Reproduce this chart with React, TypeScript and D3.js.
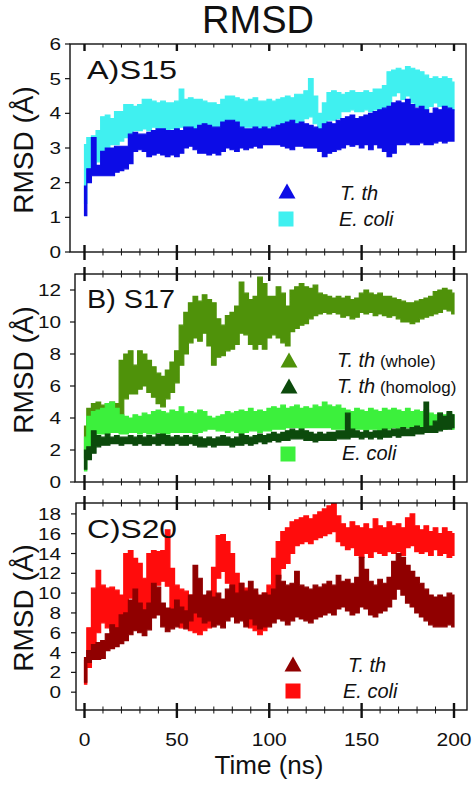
import React from "react";
import * as d3 from "d3";

// time grid (ns)
const TIME = [
  0, 2.5, 5, 7.5, 10, 12.5, 15, 17.5, 20, 22.5,
  25, 27.5, 30, 32.5, 35, 37.5, 40, 42.5, 45, 47.5,
  50, 52.5, 55, 57.5, 60, 62.5, 65, 67.5, 70, 72.5,
  75, 77.5, 80, 82.5, 85, 87.5, 90, 92.5, 95, 97.5,
  100, 102.5, 105, 107.5, 110, 112.5, 115, 117.5, 120, 122.5,
  125, 127.5, 130, 132.5, 135, 137.5, 140, 142.5, 145, 147.5,
  150, 152.5, 155, 157.5, 160, 162.5, 165, 167.5, 170, 172.5,
  175, 177.5, 180, 182.5, 185, 187.5, 190, 192.5, 195, 197.5,
  200,
];

// ---- Panel A: S15 (upper / lower envelope of the RMSD trace, Å)
const S15_ECOLI_HI = [
  3.1, 3.3, 3.35, 3.5, 3.9, 3.95, 3.85, 4.05, 4.05, 4.25,
  4.25, 4.2, 4.25, 4.4, 4.4, 4.35, 4.3, 4.35, 4.3, 4.3,
  4.35, 4.7, 4.4, 4.45, 4.4, 4.4, 4.35, 4.3, 4.3, 4.25,
  4.4, 4.5, 4.5, 4.45, 4.4, 4.35, 4.4, 4.45, 4.35, 4.35,
  4.4, 4.35, 4.4, 4.45, 4.5, 4.45, 4.55, 4.55, 4.65, 5.0,
  4.5, 4.0, 4.3, 4.6, 4.65, 4.6, 4.55, 4.6, 4.65, 4.6,
  4.6, 4.65, 4.6, 4.7, 4.7, 4.8, 5.2, 5.25, 5.3, 5.25,
  5.35, 5.3, 5.25, 5.2, 5.1, 5.0, 5.05, 5.0, 5.05, 5.0,
  4.9,
];
const S15_ECOLI_LO = [
  1.4, 2.4, 2.4, 2.6, 2.9, 3.0, 3.1, 3.1, 3.2, 3.3,
  3.4, 3.5, 3.5, 3.55, 3.5, 3.6, 3.55, 3.5, 3.5, 3.55,
  3.5, 3.6, 3.55, 3.6, 3.55, 3.6, 3.65, 3.6, 3.6, 3.55,
  3.6, 3.65, 3.6, 3.6, 3.55, 3.6, 3.6, 3.6, 3.55, 3.6,
  3.6, 3.6, 3.65, 3.65, 3.7, 3.75, 3.7, 3.75, 3.85, 3.9,
  3.7, 3.35, 3.5, 3.8, 3.8, 3.85, 4.05, 4.05, 4.1, 4.05,
  4.05, 4.1, 4.05, 4.1, 4.05, 4.15, 4.2, 4.5, 4.6, 4.4,
  4.5, 4.3, 4.2, 4.15, 4.1, 4.2, 4.3, 4.2, 4.15, 4.15,
  4.1,
];
const S15_TTH_HI = [
  1.9, 2.4, 3.3, 2.5, 2.9, 3.0, 3.0, 3.05, 3.05, 3.05,
  3.4, 3.45, 3.4, 3.4, 3.45, 3.5, 3.55, 3.55, 3.5, 3.5,
  3.55, 3.5, 3.6, 3.6, 3.55, 3.65, 3.7, 3.65, 3.6, 3.6,
  3.75, 3.8, 3.8, 3.75, 3.6, 3.55, 3.55, 3.6, 3.55, 3.6,
  3.55, 3.6, 3.65, 3.7, 3.75, 3.8, 3.7, 3.75, 3.7, 3.65,
  3.6, 3.55, 3.7, 3.75, 3.7, 3.8, 3.85, 3.9, 3.95, 3.85,
  3.9, 3.95, 4.0, 4.05, 4.1, 4.15, 4.2, 4.3, 4.35, 4.3,
  4.4, 4.25, 4.15, 4.2, 4.1, 4.0, 4.15, 4.1, 4.2, 4.15,
  4.1,
];
const S15_TTH_LO = [
  1.05, 2.0, 2.2, 2.2, 2.2, 2.2, 2.2, 2.3, 2.35, 2.4,
  2.55, 2.9, 2.95, 2.9, 2.75, 2.8, 2.85, 2.8, 2.75, 2.8,
  2.75, 2.85, 3.0, 3.05, 2.95, 2.85, 2.85, 2.8, 2.85, 2.8,
  2.9, 3.0, 2.95, 2.9, 3.0, 2.95, 3.0, 3.05, 3.0, 3.1,
  3.1, 3.1, 3.1, 3.05, 3.0, 2.95, 3.05, 3.05, 3.0, 3.0,
  3.0, 2.9, 2.75, 2.85, 2.9, 2.95, 3.0, 3.1, 3.05, 3.1,
  3.0, 3.1, 2.95, 3.1, 3.0, 2.9, 2.75, 2.85, 3.1, 3.1,
  3.15, 3.1, 3.1, 3.15, 3.1, 3.1, 3.15, 3.2, 3.15, 3.2,
  3.2,
];

// ---- Panel B: S17
const S17_WHOLE_HI = [
  3.5, 4.6, 4.9, 5.0, 4.8, 4.9, 5.0, 4.9, 7.6, 8.0,
  8.2, 7.3, 8.2, 8.0, 7.6, 7.2, 6.8, 6.6, 7.0, 7.5,
  8.2, 9.8, 10.6, 11.2, 11.6, 11.3, 11.7, 11.4, 11.2, 10.2,
  9.8, 10.4, 10.6, 11.0, 12.5, 11.8, 11.4, 11.6, 12.8, 12.4,
  11.6, 11.6, 12.2, 11.8, 11.0, 12.0, 12.2, 12.4, 12.2, 12.1,
  12.3, 11.8, 11.7, 11.6, 11.5, 11.6, 11.5, 11.6, 11.4, 11.5,
  11.8, 12.0, 11.8, 11.7, 11.8, 11.6, 11.6, 11.5, 11.4, 11.3,
  11.2, 11.2, 11.3, 11.4, 11.5, 11.6, 11.9, 12.0, 12.1, 12.0,
  11.8,
];
const S17_WHOLE_LO = [
  1.5, 3.5, 3.8, 4.0, 4.0, 4.0, 4.1, 3.9, 4.0, 5.2,
  5.5, 5.5, 5.8, 6.0, 5.6, 5.3, 4.9, 4.7, 5.2, 5.6,
  6.2, 7.3, 8.0, 8.7, 9.0, 8.8, 9.3, 8.5, 7.3, 7.8,
  7.9, 8.2, 8.3, 8.6, 9.3, 9.2, 8.6, 8.3, 8.6, 8.3,
  9.0, 9.2, 9.0, 8.7, 8.5, 9.4, 9.6, 9.8, 9.9, 10.2,
  10.4, 10.5, 10.6, 10.5, 10.6, 10.5, 10.3, 10.4, 10.2, 10.3,
  10.6, 10.5, 10.6, 10.4, 10.5, 10.4, 10.3, 10.4, 10.2, 10.0,
  10.0, 9.9, 10.0, 10.2, 10.3, 10.4, 10.5, 10.6, 10.8, 10.7,
  10.5,
];
const S17_ECOLI_HI = [
  2.8, 4.1, 4.4, 4.5, 4.6, 4.9, 5.0, 4.6, 4.2, 4.1,
  4.0, 4.2, 4.1, 4.3, 4.2, 4.4, 4.5, 4.4, 4.3, 4.5,
  4.4, 4.7, 4.3, 4.4, 4.3, 4.5, 4.4, 4.1, 4.0, 4.1,
  4.2, 4.4, 4.3, 4.4, 4.5, 4.4, 4.6, 4.4, 4.5, 4.4,
  4.6, 4.7, 4.6, 4.8, 4.6, 4.7, 4.8, 4.6, 4.7, 4.6,
  4.8, 4.7, 5.0, 4.8, 4.7, 4.8, 4.6, 4.5, 4.4, 4.6,
  4.5, 4.4, 4.6, 4.5, 4.4, 4.6, 4.5, 4.6, 4.5, 4.4,
  4.6, 4.4, 4.5, 4.4, 4.5, 4.3, 4.2, 4.3, 4.2, 4.3,
  4.2,
];
const S17_ECOLI_LO = [
  0.7, 2.2, 2.8, 3.0, 3.0, 3.0, 3.1, 3.1, 3.0, 3.0,
  3.1, 3.1, 3.0, 3.1, 3.0, 3.0, 3.1, 3.0, 3.0, 3.1,
  3.1, 3.1, 3.1, 3.1, 3.0, 3.1, 3.2, 3.3, 3.3, 3.2,
  3.2, 3.1, 3.2, 3.1, 3.0, 3.1, 3.2, 3.2, 3.1, 3.2,
  3.2, 3.3, 3.3, 3.3, 3.4, 3.4, 3.4, 3.3, 3.4, 3.4,
  3.4, 3.4, 3.4, 3.4, 3.3, 3.3, 3.3, 3.3, 3.2, 3.3,
  3.3, 3.2, 3.3, 3.3, 3.2, 3.3, 3.3, 3.4, 3.3, 3.4,
  3.4, 3.3, 3.4, 3.3, 3.4, 3.3, 3.3, 3.4, 3.3, 3.4,
  3.3,
];
const S17_HOMOLOG_HI = [
  2.0, 2.2, 3.2, 2.9, 2.8, 3.0, 2.8, 2.9, 2.8, 2.8,
  2.9, 2.8, 2.9, 2.8, 2.9, 2.8, 3.0, 3.0, 2.9, 2.8,
  2.9, 2.8, 2.9, 2.8, 2.9, 2.8, 2.7, 2.8, 2.7, 2.8,
  2.9, 2.8, 2.7, 2.8, 3.0, 2.9, 2.8, 2.9, 3.0, 2.9,
  3.0, 3.1, 3.0, 3.1, 3.2, 3.3, 3.2, 3.3, 3.2, 3.1,
  3.0, 3.1, 3.0, 3.1, 3.1, 3.2, 3.2, 4.3, 3.3, 3.2,
  3.1, 3.2, 3.1, 3.2, 3.2, 3.3, 3.2, 3.3, 3.3, 3.4,
  3.3, 3.4, 3.5, 3.4, 5.0, 3.5, 3.8, 4.3, 4.1, 4.4,
  4.2,
];
const S17_HOMOLOG_LO = [
  0.8, 1.4, 1.8, 2.2, 2.3, 2.3, 2.4, 2.4, 2.3, 2.4,
  2.4, 2.3, 2.4, 2.3, 2.3, 2.4, 2.3, 2.4, 2.3, 2.3,
  2.4, 2.3, 2.3, 2.4, 2.3, 2.2, 2.2, 2.3, 2.2, 2.3,
  2.3, 2.3, 2.2, 2.3, 2.3, 2.4, 2.3, 2.4, 2.5, 2.4,
  2.5, 2.6, 2.5, 2.6, 2.6, 2.7, 2.7, 2.7, 2.6, 2.6,
  2.5, 2.6, 2.6, 2.6, 2.6, 2.7, 2.7, 2.7, 2.8, 2.8,
  2.7, 2.8, 2.7, 2.8, 2.7, 2.8, 2.8, 2.9, 2.8, 2.9,
  2.9, 2.9, 3.0, 3.0, 3.1, 3.1, 3.1, 3.2, 3.3, 3.3,
  3.4,
];

// ---- Panel C: S20
const S20_ECOLI_HI = [
  3.2, 6.5, 10.5, 12.3, 10.8, 10.5, 10.6, 10.3, 9.8, 14.0,
  14.3, 13.5, 13.0, 11.5, 14.0, 14.3, 14.2, 14.3, 16.4, 12.5,
  10.8, 10.4, 10.2, 9.8, 9.6, 9.8, 9.5, 9.9, 12.6, 15.8,
  15.9, 15.2, 14.0, 12.0, 11.0, 10.5, 10.2, 10.0, 9.6, 10.0,
  10.8, 13.5, 15.2, 16.2, 16.6, 17.2, 17.4, 17.6, 17.8, 17.5,
  17.9, 18.2, 18.5, 18.8, 19.1, 17.8, 17.0, 16.6, 17.2, 16.8,
  16.6, 17.0, 16.5, 17.5, 16.8, 16.6, 17.2, 16.8, 17.0, 16.6,
  17.6, 18.0, 16.8, 16.4, 16.8, 16.2, 16.6, 16.0, 16.6, 16.2,
  16.0,
];
const S20_ECOLI_LO = [
  0.8, 2.5, 4.8, 6.0, 7.0, 6.5, 6.2, 5.8, 5.8, 6.5,
  9.5, 9.0, 8.6, 7.5, 8.5, 10.0, 10.8, 11.2, 10.7, 8.0,
  7.0, 6.5, 6.8, 6.2, 6.0, 5.8, 6.2, 6.5, 8.0, 11.5,
  12.2, 11.0, 10.2, 8.8, 7.5, 7.0, 6.5, 6.2, 5.8, 6.2,
  7.0, 9.5, 11.5, 12.5, 13.0, 14.0, 14.8, 15.0, 15.2, 15.0,
  15.4, 15.6, 15.8, 16.0, 16.2, 15.2, 14.8, 14.4, 14.6, 13.8,
  13.6, 14.0, 13.6, 14.2, 14.0, 13.8, 14.2, 14.0, 14.2, 13.8,
  14.6, 14.8, 14.2, 14.0, 14.2, 13.8, 14.4, 13.8, 14.0, 13.6,
  13.8,
];
const S20_TTH_HI = [
  3.5, 4.2, 4.8, 5.0, 5.2, 5.9, 6.8, 6.5, 7.8, 8.0,
  9.3, 10.4, 9.0, 8.3, 9.0, 11.0, 10.6, 9.0, 8.5, 8.4,
  9.3, 8.6, 8.2, 9.8, 12.8, 11.5, 9.8, 10.2, 9.6, 10.0,
  9.4, 10.4, 10.8, 10.0, 11.0, 10.2, 11.2, 10.4, 9.8, 10.0,
  9.8, 10.4, 11.8, 11.2, 10.8, 11.0, 12.2, 10.8, 10.6, 10.4,
  10.8, 10.6, 10.9, 11.2, 10.8, 11.8, 11.2, 11.4, 11.0, 11.6,
  13.6, 12.4, 11.2, 10.8, 11.4, 11.0, 11.6, 13.2, 14.0, 13.6,
  12.8, 12.2, 11.6, 11.0, 10.4, 9.8, 9.6, 9.8, 9.6, 10.0,
  9.8,
];
const S20_TTH_LO = [
  1.0, 3.0, 3.3, 3.3, 3.4, 4.2, 4.4, 4.6, 4.9, 5.2,
  5.8, 6.2, 6.0, 5.7, 6.3, 7.5, 7.8, 6.6, 6.1, 6.4,
  6.6, 7.0, 6.4, 7.2, 8.0, 7.6, 7.0, 7.2, 6.6, 6.8,
  6.5, 7.2, 7.6, 7.0, 7.2, 6.6, 7.4, 6.8, 6.4, 6.6,
  6.6, 7.0, 7.4, 7.2, 6.8, 7.2, 7.6, 7.4, 7.2, 7.0,
  7.4, 7.6, 7.8, 8.0, 7.8, 8.4, 8.6, 8.2, 7.8, 8.0,
  8.6, 8.4, 7.8, 7.6, 8.0, 8.2, 8.6, 9.4, 10.4, 9.8,
  9.0, 8.6, 8.0, 7.6, 7.2, 6.8, 6.6, 6.6, 6.6, 6.8,
  6.6,
];

// ---- ticks
const X_MAJOR = [0, 50, 100, 150, 200];
const X_MINOR = [10, 20, 30, 40, 60, 70, 80, 90, 110, 120, 130, 140, 160, 170, 180, 190];
const Y_TICKS_A = [0, 1, 2, 3, 4, 5, 6];
const Y_TICKS_B = [0, 2, 4, 6, 8, 10, 12];
const Y_TICKS_C = [0, 2, 4, 6, 8, 10, 12, 14, 16, 18];

const FONT = "'Liberation Sans', Arial, Helvetica, sans-serif";

const xScale = d3.scaleLinear().domain([0, 200]).range([84.5, 454]);

type Series = { hi: number[]; lo: number[]; color: string };
type LegendItem = { shape: "tri" | "sq"; color: string; label: string; extra?: string; mx: number; my: number; tx: number; ty: number };

type PanelDef = {
  id: string;
  top: number; bottom: number; left: number; right: number;
  domain: [number, number];
  yTicks: number[];
  topTicksInward: boolean;
  label: string; labelLen: number; labelY: number;
  titleY: number;
  series: Series[];
  legend: LegendItem[];
};

const PANELS: PanelDef[] = [
  {
    id: "A", top: 44, bottom: 252, left: 70, right: 466, domain: [0, 6], yTicks: Y_TICKS_A,
    topTicksInward: true, label: "A)S15", labelLen: 90, labelY: 79, titleY: 150,
    series: [
      { hi: S15_ECOLI_HI, lo: S15_ECOLI_LO, color: "#40f0f0" },
      { hi: S15_TTH_HI, lo: S15_TTH_LO, color: "#0c0ce6" },
    ],
    legend: [
      { shape: "tri", color: "#0c0ce6", label: "T. th", mx: 287, my: 191, tx: 340, ty: 200 },
      { shape: "sq", color: "#40f0f0", label: "E. coli", mx: 286, my: 219, tx: 339, ty: 226 },
    ],
  },
  {
    id: "B", top: 274, bottom: 482, left: 75, right: 467, domain: [0, 13], yTicks: Y_TICKS_B,
    topTicksInward: false, label: "B) S17", labelLen: 88, labelY: 308, titleY: 370,
    series: [
      { hi: S17_WHOLE_HI, lo: S17_WHOLE_LO, color: "#4f920a" },
      { hi: S17_ECOLI_HI, lo: S17_ECOLI_LO, color: "#3cf03c" },
      { hi: S17_HOMOLOG_HI, lo: S17_HOMOLOG_LO, color: "#0c4a0c" },
    ],
    legend: [
      { shape: "tri", color: "#4f920a", label: "T. th", extra: "(whole)", mx: 289, my: 360, tx: 337, ty: 367 },
      { shape: "tri", color: "#0c4a0c", label: "T. th", extra: "(homolog)", mx: 289, my: 386, tx: 337, ty: 393 },
      { shape: "sq", color: "#3cf03c", label: "E. coli", mx: 288, my: 454, tx: 342, ty: 460 },
    ],
  },
  {
    id: "C", top: 503, bottom: 710, left: 76, right: 467, domain: [-1.8, 19.1], yTicks: Y_TICKS_C,
    topTicksInward: false, label: "C)S20", labelLen: 90, labelY: 538, titleY: 608,
    series: [
      { hi: S20_ECOLI_HI, lo: S20_ECOLI_LO, color: "#ff0c0c" },
      { hi: S20_TTH_HI, lo: S20_TTH_LO, color: "#900000" },
    ],
    legend: [
      { shape: "tri", color: "#900000", label: "T. th", mx: 293, my: 664, tx: 348, ty: 672 },
      { shape: "sq", color: "#ff0c0c", label: "E. coli", mx: 293, my: 691, tx: 343, ty: 698 },
    ],
  },
];

function Panel({ p }: { p: PanelDef }) {
  const y = d3.scaleLinear().domain(p.domain).range([p.bottom, p.top]);
  const area = (s: Series) =>
    d3
      .area<number>()
      .x((_, i) => xScale(TIME[i]))
      .y0((_, i) => y(s.lo[i]))
      .y1((d) => y(d))
      .curve(d3.curveStep)(s.hi) || "";
  const clipId = `clip-${p.id}`;
  const axisColor = "#111";
  return (
    <g>
      <defs>
        <clipPath id={clipId}>
          <rect x={p.left} y={p.top} width={p.right - p.left} height={p.bottom - p.top} />
        </clipPath>
      </defs>
      <g clipPath={`url(#${clipId})`}>
        {p.series.map((s, i) => (
          <path key={i} d={area(s)} fill={s.color} stroke={s.color} strokeWidth={1.2} strokeLinejoin="miter" />
        ))}
      </g>
      {/* frame */}
      <rect x={p.left} y={p.top} width={p.right - p.left} height={p.bottom - p.top} fill="none" stroke={axisColor} strokeWidth={1.4} />
      {/* x ticks bottom */}
      {X_MAJOR.map((t) => (
        <line key={"bM" + t} x1={xScale(t)} x2={xScale(t)} y1={p.bottom - 7} y2={p.bottom + 8} stroke={axisColor} strokeWidth={2.4} />
      ))}
      {X_MINOR.map((t) => (
        <line key={"bm" + t} x1={xScale(t)} x2={xScale(t)} y1={p.bottom - 3.5} y2={p.bottom + 3.5} stroke={axisColor} strokeWidth={1} />
      ))}
      {/* x ticks top */}
      {X_MAJOR.map((t) => (
        <line key={"tM" + t} x1={xScale(t)} x2={xScale(t)} y1={p.topTicksInward ? p.top : p.top - 7} y2={p.top + 7} stroke={axisColor} strokeWidth={2.4} />
      ))}
      {X_MINOR.map((t) => (
        <line key={"tm" + t} x1={xScale(t)} x2={xScale(t)} y1={p.topTicksInward ? p.top : p.top - 3.5} y2={p.top + 3.5} stroke={axisColor} strokeWidth={1} />
      ))}
      {/* y ticks */}
      {p.yTicks.map((v) => (
        <g key={"y" + v}>
          <line x1={p.left - 5} x2={p.left} y1={y(v)} y2={y(v)} stroke={axisColor} strokeWidth={1.2} />
          <text
            transform={`translate(61,${y(v) + 6}) scale(1.22,1)`}
            textAnchor="end"
            fontSize={17}
            fontFamily={FONT}
            fill="#111"
          >
            {v}
          </text>
        </g>
      ))}
      {/* panel label */}
      <text x={87} y={p.labelY} fontSize={26} fontFamily={FONT} fill="#111" textLength={p.labelLen} lengthAdjust="spacingAndGlyphs">
        {p.label}
      </text>
      {/* y title */}
      <text transform={`translate(33,${p.titleY}) rotate(-90)`} textAnchor="middle" fontSize={28} fontFamily={FONT} fill="#111">
        RMSD (Å)
      </text>
      {/* legend */}
      {p.legend.map((l, i) => (
        <g key={"l" + i}>
          {l.shape === "tri" ? (
            <path d={`M${l.mx - 8.5},${l.my + 7.5} L${l.mx + 8.5},${l.my + 7.5} L${l.mx},${l.my - 7.5} Z`} fill={l.color} />
          ) : (
            <rect x={l.mx - 7.5} y={l.my - 7.5} width={15} height={15} fill={l.color} />
          )}
          <text x={l.tx} y={l.ty} fontSize={20} fontFamily={FONT} fill="#111">
            <tspan fontStyle="italic">{l.label}</tspan>
            {l.extra ? <tspan fontSize={17}>{" " + l.extra}</tspan> : null}
          </text>
        </g>
      ))}
    </g>
  );
}

export default function App() {
  const W = 475;
  const H = 786;
  return (
    <svg width={W} height={H} viewBox={`0 0 ${W} ${H}`} style={{ position: "absolute", left: 0, top: 0, background: "#fff" }}>
      <rect x={0} y={0} width={W} height={H} fill="#fff" />
      <text x={258} y={33} textAnchor="middle" fontSize={38} fontFamily={FONT} fill="#111">
        RMSD
      </text>
      {PANELS.map((p) => (
        <Panel key={p.id} p={p} />
      ))}
      {/* x tick labels (bottom panel) */}
      {X_MAJOR.map((t) => (
        <text
          key={"xl" + t}
          transform={`translate(${xScale(t)},746) scale(1.2,1)`}
          textAnchor="middle"
          fontSize={17.5}
          fontFamily={FONT}
          fill="#111"
        >
          {t}
        </text>
      ))}
      <text x={269} y={774} textAnchor="middle" fontSize={26} fontFamily={FONT} fill="#111">
        Time (ns)
      </text>
    </svg>
  );
}
